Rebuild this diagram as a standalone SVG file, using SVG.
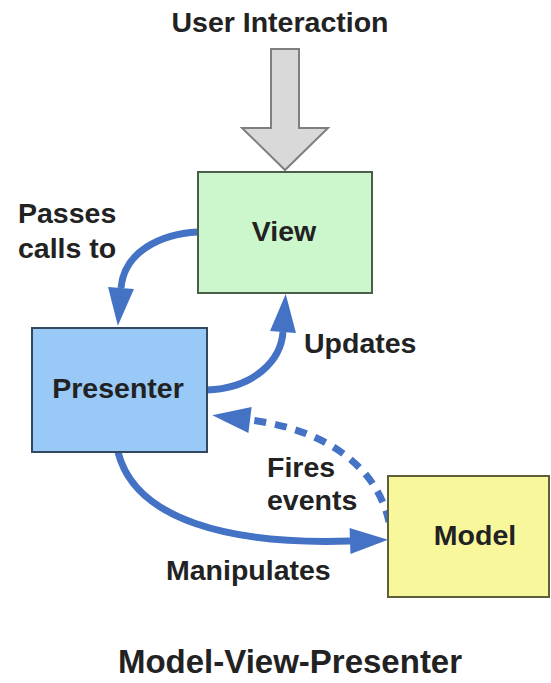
<svg xmlns="http://www.w3.org/2000/svg" width="551" height="683" viewBox="0 0 551 683">
<style>
.lbl{font-family:"Liberation Sans",Arial,sans-serif;font-weight:bold;font-size:28.5px;fill:#222;}
.ttl{font-family:"Liberation Sans",Arial,sans-serif;font-weight:bold;font-size:33px;fill:#222;}
.box{stroke-width:2;}
.conn{fill:none;stroke:#4472c4;stroke-width:7;}
</style>
<defs>
<marker id="ah" markerUnits="userSpaceOnUse" markerWidth="40" markerHeight="28" refX="0" refY="13" orient="auto" overflow="visible">
<path d="M0,0 L38,13 L0,26 z" fill="#4472c4"/>
</marker>
</defs>
<rect width="551" height="683" fill="#ffffff"/>
<text class="lbl" x="280" y="32" text-anchor="middle">User Interaction</text>
<g id="user-arrow">
<polygon points="271,49 299,49 299,128 328,128 285,170 242,128 271,128" fill="#d9d9d9" stroke="#7f7f7f" stroke-width="2"/>
</g>
<g id="connectors">
<path class="conn" d="M198 232 C160 234 124 252 121 288" marker-end="url(#ah)"/>
<path class="conn" d="M207 390 C255 388 281 360 283 332" marker-end="url(#ah)"/>
<path class="conn" d="M389 522 C378 470 330 430 250 420" stroke-dasharray="12 9" marker-end="url(#ah)"/>
<path class="conn" d="M118 452 C135 520 230 545 350 541" marker-end="url(#ah)"/>
</g>
<g id="view">
<rect class="box" x="198" y="172" width="174" height="121" fill="#ccf7cc" stroke="#4a5e4a"/>
<text class="lbl" x="284" y="241" text-anchor="middle">View</text>
</g>
<g id="presenter">
<rect class="box" x="32" y="328" width="175" height="124" fill="#99c9f7" stroke="#33475e"/>
<text class="lbl" x="118" y="398" text-anchor="middle">Presenter</text>
</g>
<g id="model">
<rect class="box" x="388" y="476" width="161" height="121" fill="#f8f79c" stroke="#5e5e3a"/>
<text class="lbl" x="475" y="545" text-anchor="middle">Model</text>
</g>
<text class="lbl" x="18" y="223">Passes</text>
<text class="lbl" x="18" y="258">calls to</text>
<text class="lbl" x="304" y="353">Updates</text>
<text class="lbl" x="267" y="477">Fires</text>
<text class="lbl" x="267" y="510">events</text>
<text class="lbl" x="166" y="580">Manipulates</text>
<text class="ttl" x="290" y="673" text-anchor="middle">Model-View-Presenter</text>
</svg>
